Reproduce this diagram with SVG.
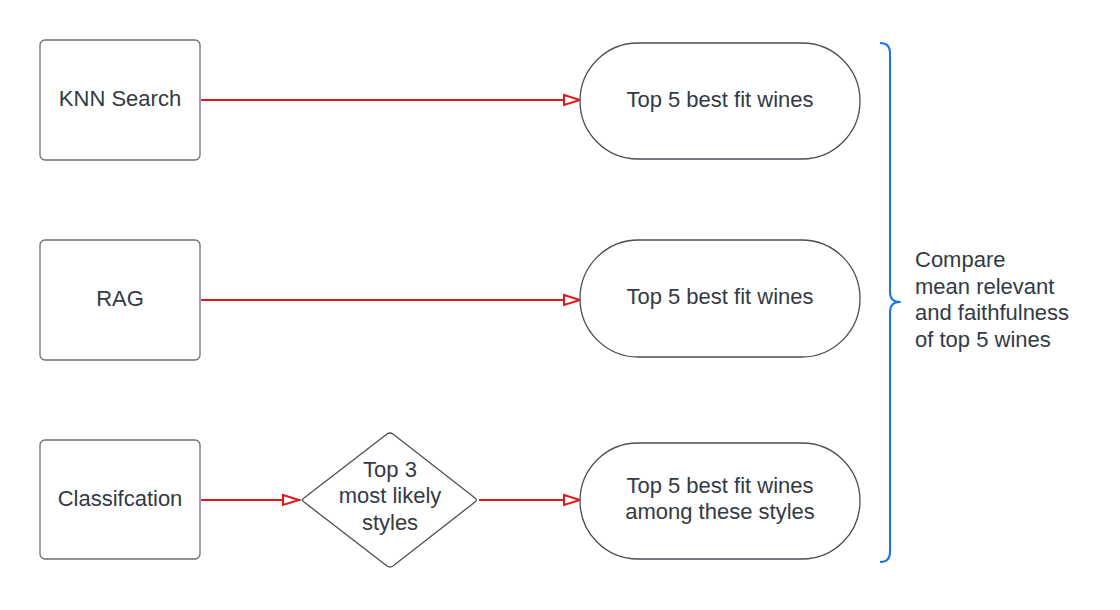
<svg xmlns="http://www.w3.org/2000/svg" width="1120" height="610" viewBox="0 0 1120 610">
<defs>
<marker id="arr" markerUnits="userSpaceOnUse" markerWidth="20" markerHeight="14" refX="17" refY="6" orient="auto" overflow="visible">
<path d="M1,1 L17,6 L1,11 Z" fill="#ffffff" stroke="#e8141b" stroke-width="2" stroke-linejoin="miter"/>
</marker>
<style>
.box{fill:#ffffff;stroke:#6b6f76;stroke-width:1.3}
.shape{fill:#ffffff;stroke:#4a4e55;stroke-width:1.3}
.t{font-family:"Liberation Sans",Arial,sans-serif;font-size:22px;fill:#333a45;text-anchor:middle}
.tl{font-family:"Liberation Sans",Arial,sans-serif;font-size:22px;fill:#333a45}
.c{fill:none;stroke:#e8141b;stroke-width:2}
.br{fill:none;stroke:#1a73e8;stroke-width:2;stroke-linejoin:round}
</style>
</defs>
<rect width="1120" height="610" fill="#ffffff"/>
<g id="connectors">
<line class="c" x1="201" y1="100" x2="580" y2="100" marker-end="url(#arr)"/>
<line class="c" x1="201" y1="300" x2="580" y2="300" marker-end="url(#arr)"/>
<line class="c" x1="201" y1="500" x2="299" y2="500" marker-end="url(#arr)"/>
<line class="c" x1="479" y1="500" x2="580" y2="500" marker-end="url(#arr)"/>
</g>
<g id="knn">
<rect class="box" x="40" y="40" width="160" height="120" rx="5"/>
<text class="t" x="120" y="106">KNN Search</text>
</g>
<g id="rag">
<rect class="box" x="40" y="240" width="160" height="120" rx="5"/>
<text class="t" x="120" y="306">RAG</text>
</g>
<g id="classification">
<rect class="box" x="40" y="440" width="160" height="119" rx="5"/>
<text class="t" x="120" y="506">Classifcation</text>
</g>
<g id="top3">
<path class="shape" d="M387,434 Q390,432 393,434 L475,498 Q478,500 475,502 L393,566 Q390,568 387,566 L304,502 Q301,500 304,498 Z"/>
<text class="t" x="390" y="477">Top 3</text>
<text class="t" x="390" y="503">most likely</text>
<text class="t" x="390" y="530">styles</text>
</g>
<g id="result1">
<rect class="shape" x="580" y="43" width="280" height="116" rx="58" ry="58"/>
<text class="t" x="720" y="107">Top 5 best fit wines</text>
</g>
<g id="result2">
<rect class="shape" x="580" y="240" width="280" height="117" rx="58.5" ry="58.5"/>
<text class="t" x="720" y="304">Top 5 best fit wines</text>
</g>
<g id="result3">
<rect class="shape" x="580" y="443" width="280" height="116" rx="58" ry="58"/>
<text class="t" x="720" y="493">Top 5 best fit wines</text>
<text class="t" x="720" y="519">among these styles</text>
</g>
<g id="compare">
<path class="br" d="M880,43 Q890,43 890,53 L890,292 Q890,302 900,302 Q890,302 890,312 L890,552 Q890,562 880,562"/>
<text class="tl" x="915" y="267">Compare</text>
<text class="tl" x="915" y="294">mean relevant</text>
<text class="tl" x="915" y="320">and faithfulness</text>
<text class="tl" x="915" y="347">of top 5 wines</text>
</g>
</svg>
